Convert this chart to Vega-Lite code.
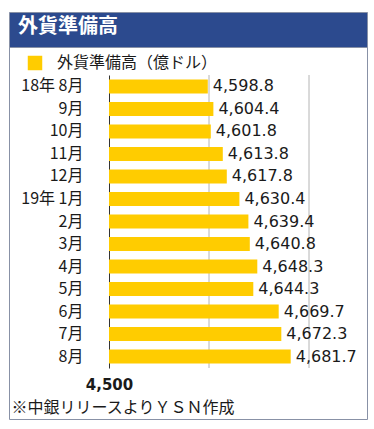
{
  "$schema": "https://vega.github.io/schema/vega-lite/v6.json",
  "padding": {"left": 8, "top": 11, "right": 0, "bottom": 0},
  "background": "white",
  "spacing": 0,
  "bounds": "flush",
  "config": {
    "font": "Noto Sans CJK JP",
    "view": {"stroke": "#8891a6", "strokeWidth": 1}
  },
  "vconcat": [
    {
      "width": 358,
      "height": 35,
      "view": {"fill": "#2c4a8e", "stroke": "#8891a6"},
      "title": {
        "text": "外貨準備高",
        "anchor": "start",
        "dx": 9,
        "offset": -25,
        "color": "white",
        "fontSize": 20,
        "fontWeight": "bold",
        "font": "Noto Sans CJK JP"
      },
      "data": {"values": [{}]},
      "mark": "text",
      "encoding": {}
    },
    {
      "width": 358,
      "height": 372,
      "data": {
        "values": [
          {"m": "2018-08", "v": 4598.8},
          {"m": "2018-09", "v": 4604.4},
          {"m": "2018-10", "v": 4601.8},
          {"m": "2018-11", "v": 4613.8},
          {"m": "2018-12", "v": 4617.8},
          {"m": "2019-01", "v": 4630.4},
          {"m": "2019-02", "v": 4639.4},
          {"m": "2019-03", "v": 4640.8},
          {"m": "2019-04", "v": 4648.3},
          {"m": "2019-05", "v": 4644.3},
          {"m": "2019-06", "v": 4669.7},
          {"m": "2019-07", "v": 4672.3},
          {"m": "2019-08", "v": 4681.7}
        ]
      },
      "resolve": {"scale": {"y": "independent"}, "axis": {"y": "independent"}},
      "encoding": {
        "x": {
          "field": "v",
          "type": "quantitative",
          "scale": {"domain": [4500, 4758], "range": [100, 358], "nice": false, "zero": false},
          "axis": {
            "values": [4500],
            "labelExpr": "format(datum.value, ',')",
            "offset": -51,
            "ticks": false,
            "domain": false,
            "grid": false,
            "labelFlush": false,
            "labelFont": "DejaVu Sans",
            "labelFontSize": 15,
            "labelFontWeight": "bold",
            "labelColor": "#1a1a1a",
            "labelPadding": 9,
            "labelDx": 3,
            "title": "※中銀リリースよりＹＳＮ作成",
            "titleFont": "Noto Sans CJK JP",
            "titleFontSize": 16,
            "titleFontWeight": "normal",
            "titleColor": "#1a1a1a",
            "titleAlign": "left",
            "titleAnchor": "start",
            "titleBaseline": "alphabetic",
            "titleX": 2,
            "titleY": 44
          }
        }
      },
      "layer": [
        {
          "data": {"values": [{"v": 4600}, {"v": 4700}]},
          "mark": {"type": "rule", "color": "#b4b4b4", "strokeWidth": 1},
          "encoding": {
            "y": {"datum": 0, "type": "quantitative", "scale": {"domain": [0, 1], "range": [28, 321]}, "axis": null},
            "y2": {"datum": 1}
          }
        },
        {
          "encoding": {
            "y": {
              "field": "m",
              "type": "ordinal",
              "sort": null,
              "scale": {"range": [28, 321], "paddingInner": 0.38, "paddingOuter": 0.2},
              "axis": {
                "title": null,
                "offset": -100,
                "ticks": false,
                "labelPadding": 26,
                "labelFontSize": 16,
                "labelColor": "#1a1a1a",
                "labelFont": "Noto Sans CJK JP",
                "domainColor": "#333333",
                "labelExpr": "datum.value == '2018-08' ? '18年 8月' : datum.value == '2019-01' ? '19年 1月' : toNumber(slice(datum.value, 5)) + '月'"
              }
            }
          },
          "layer": [
            {
              "mark": {"type": "bar"},
              "encoding": {
                "x2": {"datum": 4500},
                "color": {
                  "datum": "外貨準備高（億ドル）",
                  "scale": {"range": ["#ffcc00"]},
                  "legend": {
                    "title": null,
                    "orient": "none",
                    "legendX": 18,
                    "legendY": 43,
                    "padding": 0,
                    "symbolType": "square",
                    "symbolSize": 210,
                    "symbolStrokeWidth": 0,
                    "symbolOpacity": 1,
                    "labelFontSize": 16,
                    "labelLimit": 400,
                    "labelFont": "Noto Sans CJK JP",
                    "labelColor": "#1a1a1a",
                    "labelOffset": 14
                  }
                }
              }
            },
            {
              "mark": {
                "type": "text",
                "align": "left",
                "baseline": "middle",
                "dx": 5,
                "font": "DejaVu Sans",
                "fontSize": 16,
                "color": "#1a1a1a"
              },
              "encoding": {
                "text": {"field": "v", "type": "quantitative", "format": ",.1f"}
              }
            }
          ]
        }
      ]
    }
  ]
}
